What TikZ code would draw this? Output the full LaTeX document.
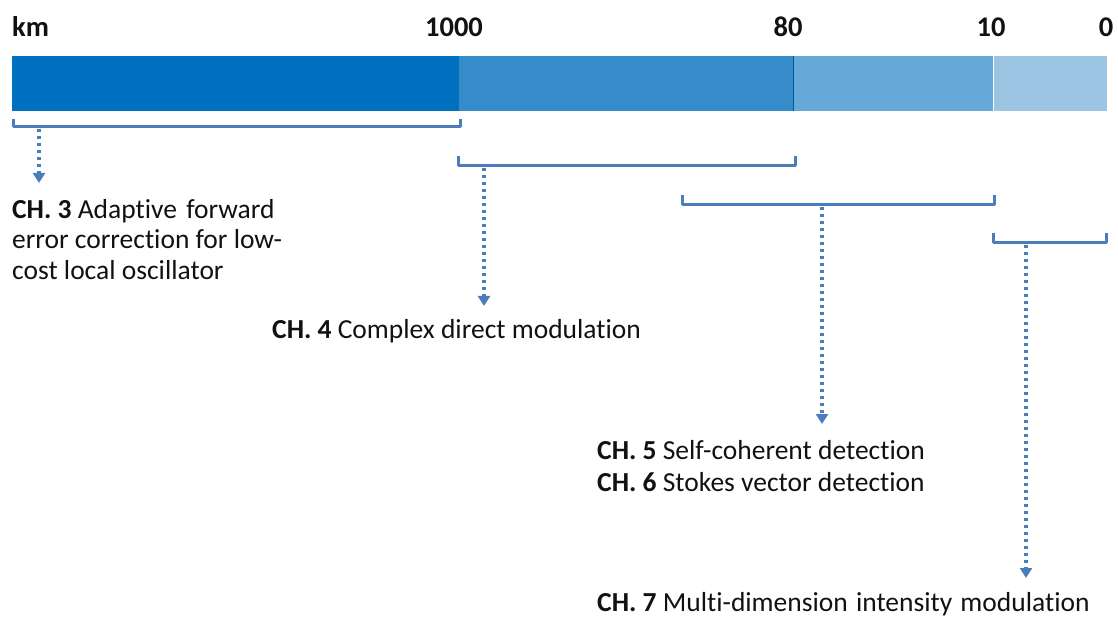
\documentclass[tikz,border=0pt]{standalone}
\usepackage{fontspec}
\setmainfont{Carlito}[Ligatures=NoCommon]
\usetikzlibrary{arrows.meta}
\definecolor{segA}{HTML}{0070C0}
\definecolor{segB}{HTML}{368CCB}
\definecolor{segC}{HTML}{66A8D7}
\definecolor{segD}{HTML}{9BC5E3}
\definecolor{brk}{HTML}{4A7EBB}
\definecolor{txt}{HTML}{111111}
\begin{document}
\begin{tikzpicture}[x=1pt,y=-1pt,
  brace/.style={draw=brk,line width=3pt,line join=round},
  darrow/.style={draw=brk,line width=3.2pt,dash pattern=on 3.4pt off 3.6pt,
    -{Triangle[width=12pt,length=10pt]}},
  toplabel/.style={font=\fontsize{28.5}{32}\selectfont\bfseries,text=txt,anchor=base,inner sep=0pt},
  chtext/.style={font=\fontsize{27.5}{31}\selectfont,text=txt,anchor=base west,inner sep=0pt,align=left}]
\useasboundingbox (0,0) rectangle (1118,617);
% bar segments
\fill[segA] (12,56) rectangle (459,111);
\fill[segB] (459,56) rectangle (793,111);
\fill[segC] (793,56) rectangle (993,111);
\fill[segD] (994,56) rectangle (1107,111);
\draw[segA!80!black,line width=0.6pt] (793,56) -- (793,111);
% top labels
\node[toplabel,anchor=base west] (km) at (12,37) {km};
\node[toplabel] (l1000) at (454,37) {1000};
\node[toplabel] (l80) at (788,37) {80};
\node[toplabel] (l10) at (991,37) {10};
\node[toplabel] (l0) at (1106,37) {0};
% brackets
\draw[brace] (13,119) -- (13,127) -- (460,127) -- (460,119);
\draw[brace] (458,156) -- (458,166) -- (795,166) -- (795,156);
\draw[brace] (682,195) -- (682,205) -- (994,205) -- (994,195);
\draw[brace] (993,233) -- (993,243) -- (1106,243) -- (1106,233);
\coordinate (b1) at (39,129);
\coordinate (b2) at (484,168);
\coordinate (b3) at (822,207);
\coordinate (b4) at (1026,245);
\coordinate (e1) at (39,183);
\coordinate (e2) at (484,306);
\coordinate (e3) at (822,424);
\coordinate (e4) at (1026,578);
% texts
\node[chtext] (ch3) at (12,280) {\textbf{CH. 3} Adaptive\hspace{3pt} forward\\error correction for low-\\cost local oscillator};
\node[chtext] (ch4) at (272,338) {\textbf{CH. 4} Complex direct modulation};
\node[chtext] (ch5) at (597,459) {\textbf{CH. 5} Self-coherent detection};
\node[chtext] (ch6) at (597,491) {\textbf{CH. 6} Stokes vector detection};
\node[chtext] (ch7) at (597,611) {\textbf{CH. 7} Multi-dimension\hspace{2pt} intensity\hspace{2pt} modulation};
% arrows
\draw[darrow] (b1) -- (e1);
\draw[darrow] (b2) -- (e2);
\draw[darrow] (b3) -- (e3);
\draw[darrow] (b4) -- (e4);
\end{tikzpicture}
\end{document}
